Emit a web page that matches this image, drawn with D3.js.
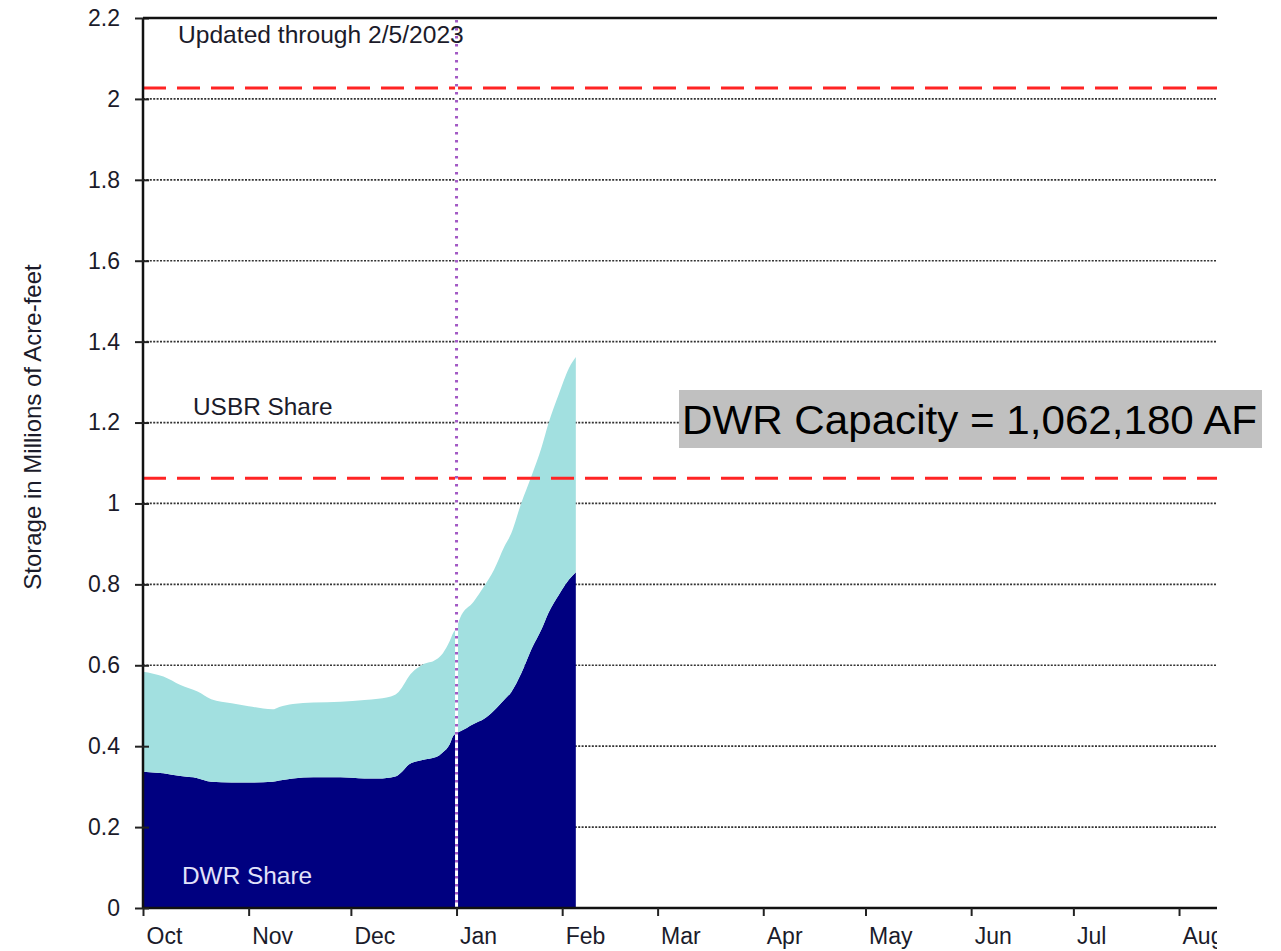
<!DOCTYPE html>
<html>
<head>
<meta charset="utf-8">
<script src="https://cdn.jsdelivr.net/npm/d3@7"></script>
<style>
  html, body { margin: 0; padding: 0; background: #ffffff; }
  svg { display: block; }
  text { font-family: "Liberation Sans", Arial, sans-serif; }
</style>
</head>
<body>
<svg id="chart" width="1281" height="951"></svg>
<script>
// ---------- DATA ----------
const dates = [
  "2022-10-01","2022-10-07","2022-10-12","2022-10-17","2022-10-21","2022-10-27",
  "2022-11-01","2022-11-08","2022-11-10","2022-11-14","2022-11-20","2022-11-28",
  "2022-12-05","2022-12-09","2022-12-14","2022-12-16","2022-12-18","2022-12-22",
  "2022-12-26","2022-12-28","2022-12-30","2022-12-31","2023-01-01","2023-01-02",
  "2023-01-06","2023-01-09","2023-01-12","2023-01-15","2023-01-17","2023-01-20",
  "2023-01-23","2023-01-26","2023-01-28","2023-01-31","2023-02-03","2023-02-05"
];
// Storage, millions of acre-feet
const dwrShare = [
  0.337,0.333,0.326,0.321,0.312,0.310,
  0.310,0.312,0.315,0.320,0.323,0.323,
  0.320,0.320,0.325,0.337,0.355,0.366,
  0.373,0.385,0.405,0.425,0.432,0.436,
  0.455,0.467,0.488,0.515,0.533,0.580,
  0.640,0.690,0.730,0.774,0.812,0.830
];
const usbrShare = [
  0.247,0.239,0.225,0.214,0.204,0.196,
  0.189,0.179,0.182,0.184,0.185,0.187,
  0.194,0.197,0.202,0.208,0.217,0.235,
  0.241,0.245,0.255,0.255,0.260,0.280,
  0.302,0.327,0.348,0.378,0.392,0.421,
  0.428,0.450,0.469,0.496,0.523,0.532
];
const yTicks = [0,0.2,0.4,0.6,0.8,1.0,1.2,1.4,1.6,1.8,2.0,2.2];
const monthTicks = ["2022-10-01","2022-11-01","2022-12-01","2023-01-01","2023-02-01","2023-03-01",
                    "2023-04-01","2023-05-01","2023-06-01","2023-07-01","2023-08-01"];
const dwrCapacity = 1.06218;
const totalCapacity = 2.027;
const markerDate = "2023-01-01";
const updatedText = "Updated through 2/5/2023";
const yTitle = "Storage in Millions of Acre-feet";
const capacityLabel = "DWR Capacity = 1,062,180 AF";

// ---------- SETUP ----------
const parse = s => { const [yy,mm,dd] = s.split("-").map(Number); return new Date(yy, mm-1, dd); };
const svg = d3.select("#chart");
const pLeft = 143, pTop = 18, pBottom = 908, pRight = 1217;

const x = d3.scaleTime()
  .domain([parse("2022-10-01"), parse("2023-09-01")])
  .range([pLeft, pLeft + 335 * 3.408]);
const y = d3.scaleLinear().domain([0, 2.2]).range([pBottom, pTop]);

const rows = dates.map((d, i) => ({ date: parse(d), dwr: dwrShare[i], usbr: usbrShare[i] }));
const stack = d3.stack().keys(["dwr", "usbr"]);
const series = stack(rows);

svg.append("defs").append("clipPath").attr("id", "clipR")
  .append("rect").attr("x", 0).attr("y", 0).attr("width", pRight).attr("height", 951);

const root = svg.append("g").attr("clip-path", "url(#clipR)");

// gridlines
root.append("g").selectAll("line")
  .data(yTicks.filter(v => v > 0 && v < 2.2))
  .join("line")
  .attr("x1", pLeft).attr("x2", pRight)
  .attr("y1", d => y(d)).attr("y2", d => y(d))
  .attr("stroke", "#333").attr("stroke-width", 1.7)
  .attr("stroke-dasharray", "2,1.4");

// areas
const area = d3.area()
  .x(d => x(d.data.date))
  .y0(d => y(d[0]))
  .y1(d => y(d[1]))
  .curve(d3.curveMonotoneX);
const colors = { dwr: "#000080", usbr: "#a2e0e0" };
root.append("g").selectAll("path")
  .data(series)
  .join("path")
  .attr("d", area)
  .attr("fill", d => colors[d.key]);

// red capacity lines
root.append("g").selectAll("line")
  .data([totalCapacity, dwrCapacity])
  .join("line")
  .attr("x1", pLeft).attr("x2", pRight)
  .attr("y1", d => y(d)).attr("y2", d => y(d))
  .attr("stroke", "#ff2424").attr("stroke-width", 3)
  .attr("stroke-dasharray", "23,11");

// vertical marker line
const mx = x(parse(markerDate));
root.append("line")
  .attr("x1", mx).attr("x2", mx).attr("y1", pTop).attr("y2", pBottom)
  .attr("stroke", "#ffffff").attr("stroke-width", 3);
root.append("line")
  .attr("x1", mx).attr("x2", mx).attr("y1", pTop + 2).attr("y2", pBottom)
  .attr("stroke", "#a259c4").attr("stroke-width", 3)
  .attr("stroke-dasharray", "2.5,5.5");

// x axis
const xAxis = d3.axisBottom(x)
  .tickValues(monthTicks.map(parse))
  .tickFormat(d3.timeFormat("%b"))
  .tickSize(8)
  .tickSizeOuter(0)
  .tickPadding(12);
const gx = root.append("g").attr("transform", `translate(0,${pBottom})`).call(xAxis);
gx.select(".domain").attr("stroke", "#111").attr("stroke-width", 2.5)
  .attr("d", `M${pLeft},0H${pRight}`);
gx.selectAll(".tick line").attr("stroke", "#222").attr("stroke-width", 2);
gx.selectAll(".tick text")
  .attr("text-anchor", "start").attr("x", 3)
  .attr("font-size", 23).attr("fill", "#1b1b2a")
  .attr("font-family", "'Liberation Sans', Arial, sans-serif");

// y axis
const yAxis = d3.axisLeft(y)
  .tickValues(yTicks)
  .tickFormat(d => String(+d.toFixed(1)))
  .tickSize(8)
  .tickSizeOuter(0)
  .tickPadding(15);
const gy = svg.append("g").attr("transform", `translate(${pLeft},0)`).call(yAxis);
gy.select(".domain").attr("stroke", "#111").attr("stroke-width", 2.5)
  .attr("d", `M0,${pTop}V${pBottom}`);
gy.selectAll(".tick line").attr("stroke", "#222").attr("stroke-width", 2).attr("x2", -8);
gy.selectAll(".tick").append("line").attr("x1", 0).attr("x2", 6)
  .attr("stroke", "#222").attr("stroke-width", 2);
gy.selectAll(".tick text")
  .attr("font-size", 23).attr("fill", "#1b1b2a")
  .attr("font-family", "'Liberation Sans', Arial, sans-serif");

// top border
svg.append("line").attr("x1", pLeft).attr("x2", pRight).attr("y1", pTop).attr("y2", pTop)
  .attr("stroke", "#111").attr("stroke-width", 2.5);

// y title
svg.append("text")
  .attr("transform", `translate(41,427) rotate(-90)`)
  .attr("text-anchor", "middle")
  .attr("font-size", 24).attr("fill", "#1b1b2a")
  .text(yTitle);

// annotations
svg.append("text").attr("x", 178).attr("y", 43)
  .attr("font-size", 24.6).attr("fill", "#1b1b2a").text(updatedText);
svg.append("text").attr("x", 193).attr("y", 415)
  .attr("font-size", 24.4).attr("fill", "#1b1b2a").text("USBR Share");
svg.append("text").attr("x", 182).attr("y", 884)
  .attr("font-size", 24.4).attr("fill", "#e2e2fa").text("DWR Share");

// capacity label box
const cap = svg.append("g");
cap.append("rect").attr("x", 679).attr("y", 390).attr("width", 583).attr("height", 58)
  .attr("fill", "#c0c0c0");
cap.append("text").attr("x", 682).attr("y", 434)
  .attr("font-family", "Lato, 'Open Sans', sans-serif")
  .attr("font-size", 40).attr("fill", "#000")
  .style("font-variant-numeric", "oldstyle-nums")
  .attr("textLength", 575).attr("lengthAdjust", "spacingAndGlyphs")
  .text(capacityLabel);
</script>
</body>
</html>
